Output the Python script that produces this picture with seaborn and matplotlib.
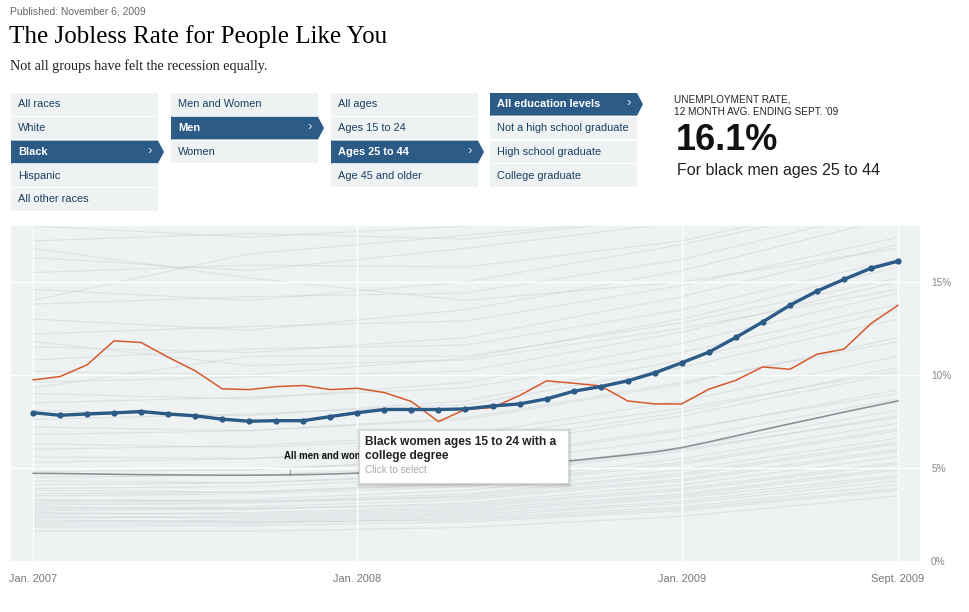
import numpy as np
import pandas as pd
import matplotlib
matplotlib.use("Agg")
import matplotlib.pyplot as plt
import seaborn as sns
from matplotlib.patches import Rectangle, Polygon

# ---------------- data ----------------
months = list(range(33))  # Jan 2007 .. Sept 2009
month_ticks = [0, 12, 24, 32]
month_tick_labels = ["Jan. 2007", "Jan. 2008", "Jan. 2009", "Sept. 2009"]
pct_ticks = [0, 5, 10, 15]
pct_tick_labels = ["0%", "5%", "10%", "15%"]

black_men_25_44 = [7.97, 7.83, 7.90, 7.96, 8.03, 7.90, 7.80, 7.62, 7.51, 7.54,
                   7.54, 7.76, 7.97, 8.14, 8.14, 8.14, 8.17, 8.33, 8.44, 8.71,
                   9.12, 9.37, 9.68, 10.11, 10.65, 11.22, 12.01, 12.85, 13.74,
                   14.50, 15.13, 15.73, 16.11]
black_women_15_24_college = [9.73, 9.91, 10.54, 11.83, 11.74, 10.95, 10.22, 9.25,
                             9.21, 9.37, 9.43, 9.21, 9.28, 9.05, 8.57, 7.49, 8.15,
                             8.24, 8.89, 9.68, 9.55, 9.41, 8.60, 8.44, 8.44, 9.23,
                             9.71, 10.43, 10.30, 11.11, 11.38, 12.76, 13.74]
all_men_women = [4.71, 4.70, 4.68, 4.66, 4.64, 4.63, 4.62, 4.61, 4.61, 4.62, 4.64,
                 4.67, 4.72, 4.78, 4.85, 4.93, 5.02, 5.11, 5.20, 5.30, 5.40, 5.55,
                 5.70, 5.86, 6.09, 6.40, 6.72, 7.05, 7.37, 7.68, 8.00, 8.30, 8.60]

# other groups (faint background lines), read at months 0, 8, 16, 24, 32
bg_anchor_months = [0, 8, 16, 24, 32]
bg_m0 = [1.6, 1.8, 1.9, 2.0, 2.1, 2.2, 2.3, 2.4, 2.5, 2.6, 2.7, 2.8, 2.9, 3.0, 3.1,
         3.2, 3.3, 3.5, 3.6, 3.8, 3.9, 4.1, 4.3, 4.5, 4.8, 5.0, 5.3, 5.6, 6.0, 6.3,
         6.8, 7.2, 7.6, 8.1, 8.5, 9.0, 9.6, 10.2, 10.8, 11.5, 12.2, 13.0, 13.8,
         14.6, 15.5, 16.3, 17.2, 18.0, 16.8, 14.0, 11.8, 9.3]
bg_m8 = [1.6, 1.9, 2.0, 2.1, 2.2, 2.1, 2.4, 2.3, 2.6, 2.5, 2.8, 2.9, 2.8, 3.1, 3.2,
         3.3, 3.2, 3.6, 3.7, 3.7, 4.0, 4.2, 4.2, 4.6, 4.9, 4.9, 5.5, 5.5, 6.2, 6.1,
         7.0, 7.0, 7.9, 7.8, 8.8, 8.7, 9.9, 10.0, 11.4, 11.2, 12.6, 12.4, 14.2,
         14.0, 15.9, 15.6, 17.6, 17.4, 15.2, 16.5, 10.5, 11.0]
bg_m16 = [1.8, 2.1, 2.3, 2.2, 2.5, 2.4, 2.7, 2.6, 2.9, 2.8, 3.1, 3.3, 3.0, 3.5, 3.4,
          3.8, 3.6, 4.0, 4.2, 4.1, 4.5, 4.7, 4.6, 5.1, 5.4, 5.5, 6.0, 6.2, 6.8, 6.6,
          7.6, 7.7, 8.4, 8.6, 9.3, 9.6, 10.2, 10.9, 11.6, 12.0, 12.9, 13.5, 14.4,
          15.0, 15.8, 16.8, 17.3, 18.0, 14.0, 17.5, 10.8, 11.0]
bg_m24 = [2.4, 2.7, 2.9, 2.8, 3.2, 3.1, 3.5, 3.4, 3.8, 3.6, 4.1, 4.3, 3.9, 4.6, 4.4,
          4.9, 4.7, 5.2, 5.5, 5.3, 5.9, 6.1, 6.0, 6.6, 7.0, 7.1, 7.8, 8.0, 8.6, 8.2,
          9.5, 9.6, 10.4, 10.8, 11.2, 11.7, 12.3, 13.0, 13.5, 14.2, 14.8, 15.6,
          16.2, 17.0, 17.2, 18.2, 18.5, 19.5, 15.0, 18.5, 12.5, 12.8]
bg_m32 = [3.5, 3.8, 4.1, 3.9, 4.5, 4.3, 4.9, 4.6, 5.2, 5.0, 5.6, 5.9, 5.3, 6.3, 6.0,
          6.6, 6.4, 7.0, 7.4, 7.1, 7.8, 8.1, 7.7, 8.7, 9.2, 9.0, 10.1, 10.4, 11.0,
          10.2, 12.0, 11.8, 13.0, 13.5, 13.8, 14.4, 15.0, 15.8, 16.2, 17.0, 17.4,
          18.5, 19.0, 19.5, 19.8, 20.5, 21.0, 21.5, 16.8, 20.0, 14.6, 15.2]

# selector menus
races = ["All races", "White", "Black", "Hispanic", "All other races"]
sexes = ["Men and Women", "Men", "Women"]
ages = ["All ages", "Ages 15 to 24", "Ages 25 to 44", "Age 45 and older"]
educations = ["All education levels", "Not a high school graduate",
              "High school graduate", "College graduate"]
selected_items = ["Black", "Men", "Ages 25 to 44", "All education levels"]

headline_value = "16.1%"

# ---------------- styling ----------------
sns.set_theme(style="white")
plt.rcParams["font.family"] = ["Liberation Sans", "DejaVu Sans"]

W, H = 970, 612
fig = plt.figure(figsize=(W / 100, H / 100), dpi=100)
fig.patch.set_facecolor("white")

BLUE = "#2b5b86"
LIGHT = "#eef2f3"
ORANGE = "#d5592b"
NAVY = "#1d3e62"

# page overlay (pixel coordinates)
page = fig.add_axes([0, 0, 1, 1], zorder=0)
page.set_xlim(0, W)
page.set_ylim(H, 0)
page.axis("off")

page.text(10, 12, "Published: November 6, 2009", fontsize=7.4, color="#666666",
          va="center", ha="left")
page.text(9, 37, "The Jobless Rate for People Like You",
          family=["Liberation Serif", "DejaVu Serif"], fontsize=18, color="#000000",
          va="center", ha="left")
page.text(10, 66, "Not all groups have felt the recession equally.",
          family=["Liberation Serif", "DejaVu Serif"], fontsize=10.2, color="#222222",
          va="center", ha="left")

col_lefts = [11, 171, 331, 490]
col_w = 147
row_top0 = 93
row_pitch = 23.8
row_h = 22.6
for left, items in zip(col_lefts, [races, sexes, ages, educations]):
    for i, label in enumerate(items):
        top = row_top0 + i * row_pitch
        if label in selected_items:
            poly = Polygon([(left, top), (left + col_w, top),
                            (left + col_w + 6, top + row_h / 2),
                            (left + col_w, top + row_h), (left, top + row_h)],
                           closed=True, facecolor=BLUE, edgecolor="none")
            page.add_patch(poly)
            page.text(left + 7, top + row_h / 2, label, fontsize=7.9, color="white",
                      fontweight="bold", va="center", ha="left")
            page.text(left + col_w - 8, top + row_h / 2 - 1, "\u203a", fontsize=9.5,
                      color="#dfe8f0", va="center", ha="center")
        else:
            page.add_patch(Rectangle((left, top), col_w, row_h, facecolor=LIGHT,
                                     edgecolor="none"))
            page.text(left + 7, top + row_h / 2, label, fontsize=7.9, color=NAVY,
                      va="center", ha="left")

page.text(674, 99, "UNEMPLOYMENT RATE,", fontsize=7.2, color="#222222",
          va="center", ha="left")
page.text(674, 112, "12 MONTH AVG. ENDING SEPT. '09", fontsize=7.2,
          color="#222222", va="center", ha="left")
page.text(676, 141, headline_value, fontsize=26, fontweight="bold",
          color="#111111", va="center", ha="left")
page.text(677, 171, "For black men ages 25 to 44", fontsize=11.5,
          color="#222222", va="center", ha="left")

# ---------------- chart ----------------
ax_l, ax_r, ax_t, ax_b = 11, 920, 226, 561
ax = fig.add_axes([ax_l / W, 1 - ax_b / H, (ax_r - ax_l) / W, (ax_b - ax_t) / H],
                  zorder=1)
ax.set_facecolor("#eef2f3")

bg_rows = []
for i in range(len(bg_m0)):
    vals = [bg_m0[i], bg_m8[i], bg_m16[i], bg_m24[i], bg_m32[i]]
    for m, v in zip(bg_anchor_months, vals):
        bg_rows.append({"line": i, "month": m, "rate": v})
bg_df = pd.DataFrame(bg_rows)

sns.lineplot(data=bg_df, x="month", y="rate", units="line", estimator=None,
             color="#b5b9bc", lw=0.8, alpha=0.28, ax=ax, legend=False, sort=False,
             zorder=1)

sns.lineplot(x=months, y=all_men_women, color="#8f9294", lw=1.2, ax=ax, zorder=3)
ax.plot([9.5, 9.5], [4.62, 4.9], color="#8f9294", lw=0.8, zorder=3)
ax.text(9.3, 5.65, "All men and women", fontsize=6.9, fontweight="bold",
        color="#111111", va="center", ha="left", zorder=4)

sns.lineplot(x=months, y=black_women_15_24_college, color=ORANGE, lw=1.1, ax=ax,
             zorder=4)
sns.lineplot(x=months, y=black_men_25_44, color=BLUE, lw=2.4, marker="o",
             markersize=4.5, markeredgewidth=0, ax=ax, zorder=5)

ax.set_xlim(-22 / 27, 32 + 22 / 27)
ax.set_ylim(0, 18)
ax.set_xticks(month_ticks)
ax.set_xticklabels(month_tick_labels)
ax.set_yticks(pct_ticks)
ax.set_yticklabels(pct_tick_labels)
ax.yaxis.tick_right()
ax.tick_params(axis="y", length=0, pad=8, labelsize=7.2, labelcolor="#888888")
ax.tick_params(axis="x", length=0, pad=9, labelsize=7.9, labelcolor="#777777")
ax.grid(True, color="white", lw=1)
ax.set_axisbelow("line")  # grid at zorder 1.5: above faint lines, below main lines
for s in ax.spines.values():
    s.set_visible(False)
ax.set_xlabel("")
ax.set_ylabel("")

# ---------------- tooltip overlay ----------------
top_ax = fig.add_axes([0, 0, 1, 1], zorder=3)
top_ax.set_xlim(0, W)
top_ax.set_ylim(H, 0)
top_ax.axis("off")
top_ax.patch.set_alpha(0)
tx, ty, tw, th = 359, 430, 209, 53
for k, a in [(4, 0.03), (3, 0.04), (2, 0.05), (1, 0.07)]:
    top_ax.add_patch(Rectangle((tx - k + 1, ty - k + 2), tw + 2 * k - 1, th + 2 * k - 1,
                               facecolor="black", alpha=a, edgecolor="none"))
top_ax.add_patch(Rectangle((tx, ty), tw, th, facecolor="white",
                           edgecolor="#d8d8d8", lw=0.8))
top_ax.text(tx + 6, 441.5, "Black women ages 15 to 24 with a", fontsize=8.6,
            fontweight="bold", color="#222222", va="center", ha="left")
top_ax.text(tx + 6, 455.5, "college degree", fontsize=8.6, fontweight="bold",
            color="#222222", va="center", ha="left")
top_ax.text(tx + 6, 470, "Click to select", fontsize=7.2, color="#aaaaaa",
            va="center", ha="left")

fig.savefig("out.png", dpi=100, facecolor="white")
